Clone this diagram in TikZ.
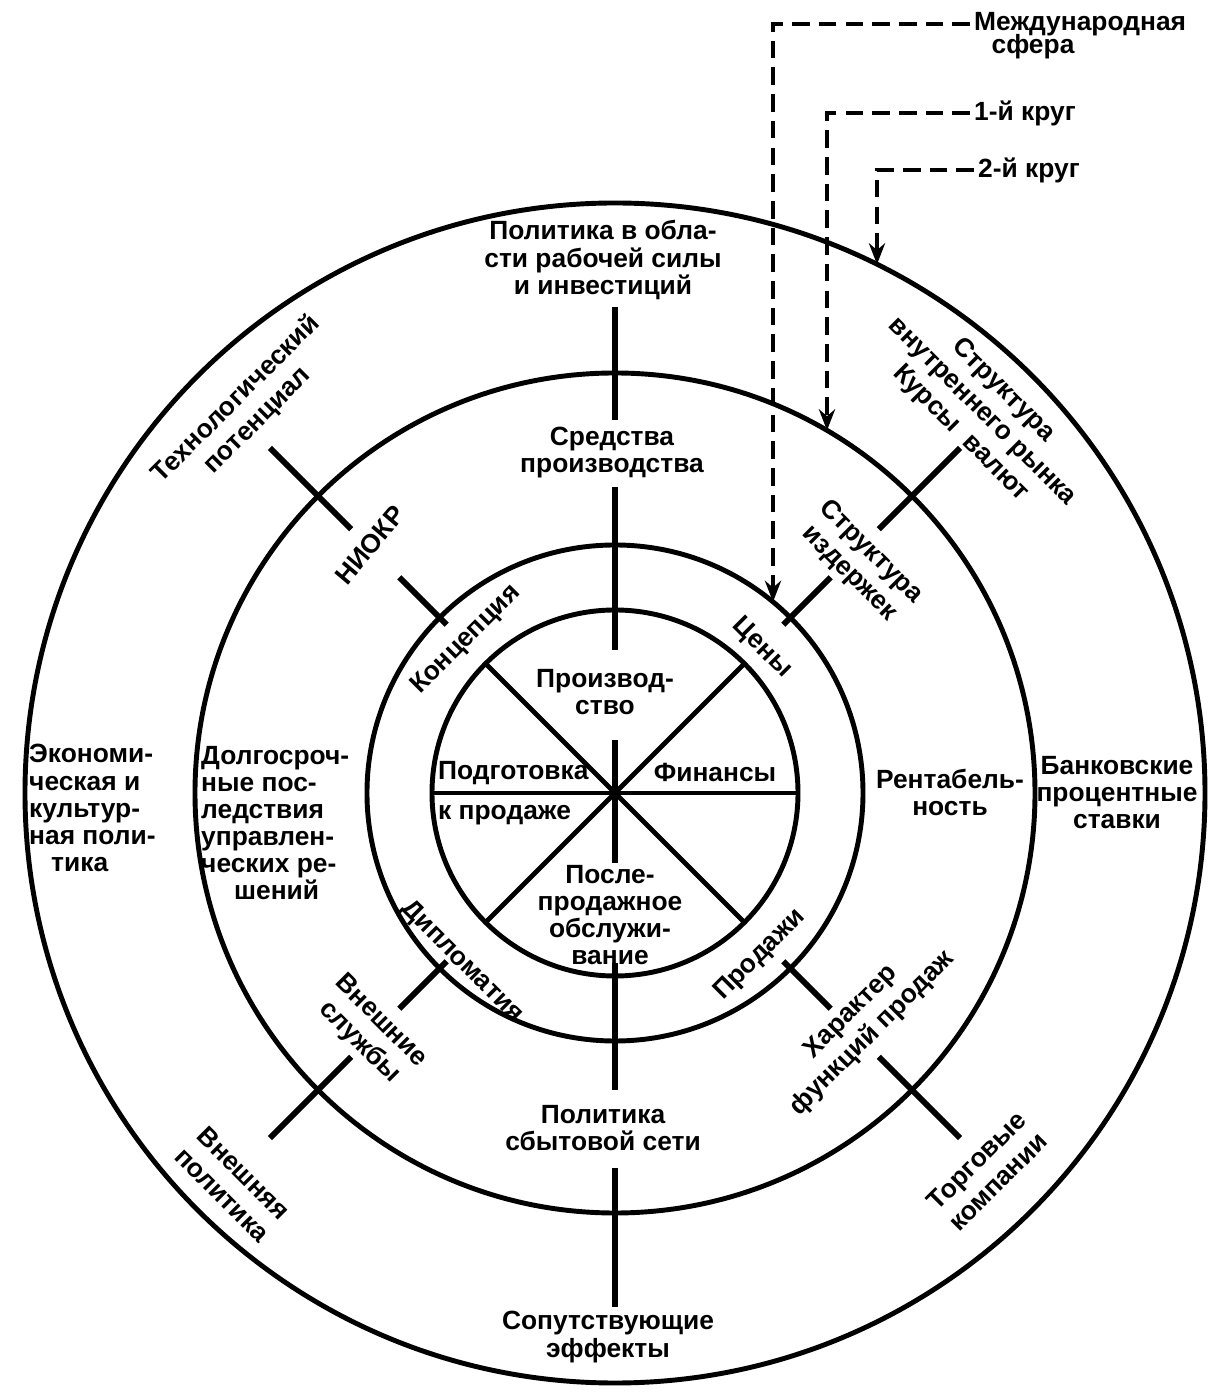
\documentclass[tikz,border=0pt]{standalone}
\usepackage{fontspec}
\setmainfont{Liberation Sans}
\usetikzlibrary{arrows.meta,positioning}

\begin{document}
\begin{tikzpicture}[
  ring/.style={line width=1.4pt},
  tick/.style={line width=1.7pt},
  lbl/.style={font=\bfseries\fontsize{7.5}{7.7}\selectfont, align=center, inner sep=1pt},
  rlbl/.style={lbl, font=\bfseries\fontsize{7.5}{8.6}\selectfont},
  dasharrow/.style={line width=1.1pt, dash pattern=on 5pt off 2.6pt, -{Stealth[length=6pt,width=4.6pt]}}
]
\useasboundingbox[fill=white] (-6.15,-6.05) rectangle (5.97,7.93);

% Circles
\foreach \r in {1.83,2.48,4.20,5.90}
  \draw[ring] (0,0) circle (\r);

% Inner circle sectors
\draw[ring] (180:1.83) -- (0:1.83);
\foreach \a in {45,135,225,315}
  \draw[ring] (0,0) -- (\a:1.83);
\draw[tick] (0,0.53) -- (0,-0.70);

% Radial ticks
\foreach \a in {45,135,225,315} {
  \draw[tick] (\a:2.38) -- (\a:3.05);
  \draw[tick] (\a:3.73) -- (\a:4.88);
}
\draw[tick] (90:1.43) -- (90:3.06);
\draw[tick] (90:3.73) -- (90:4.86);
\draw[tick] (270:1.70) -- (270:2.97);
\draw[tick] (270:3.75) -- (270:5.14);

% Inner circle
\node[lbl] (prod) at (-0.10,1.01) {Производ-\\ство};
\node[lbl, anchor=west, align=left] (prep) at (-1.81,0) {Подготовка\\[3.6pt]к продаже};
\node[lbl] (fin) at (1.00,0.20) {Финансы};
\node[lbl] (after) at (-0.05,-1.22) {После-\\продажное\\обслужи-\\вание};

% Second ring
\node[rlbl, rotate=45] (conc) at (-1.49,1.53) {Концепция};
\node[rlbl, rotate=-45] (price) at (1.47,1.45) {Цены};
\node[rlbl, rotate=-45] (dipl) at (-1.53,-1.69) {Дипломатия};
\node[rlbl, rotate=45] (sales) at (1.45,-1.62) {Продажи};

% Third ring
\node[lbl] (means) at (-0.03,3.40) {Средства\\производства};
\node[rlbl, rotate=50] (rnd) at (-2.45,2.48) {НИОКР};
\node[rlbl, rotate=-45] (costs) at (2.45,2.30) {Структура\\издержек};
\node[lbl] (profit) at (3.35,0.01) {Рентабель-\\ность};
\node[lbl, anchor=west, align=left] (longterm) at (-4.18,-0.30)
  {Долгосроч-\\ные пос-\\ледствия\\управлен-\\ческих ре-\\\hspace*{0.33cm}шений};
\node[rlbl, rotate=-45] (extserv) at (-2.45,-2.39) {Внешние\\службы};
\node[rlbl, rotate=45] (salesfn) at (2.47,-2.30) {Характер\\функций продаж};
\node[lbl] (distr) at (-0.12,-3.35) {Политика\\сбытовой сети};

% Outer ring
\node[lbl] (labour) at (-0.12,5.33) {Политика в обла-\\сти рабочей силы\\и инвестиций};
\node[rlbl, rotate=45] (tech) at (-3.68,3.83) {Технологический\\потенциал};
\node[rlbl, rotate=-45] (market) at (3.67,3.81) {Структура\\внутреннего рынка\\Курсы\ \ валют};
\node[lbl, anchor=west, align=left] (econ) at (-5.90,-0.15)
  {Экономи-\\ческая и\\культур-\\ная поли-\\\hspace*{0.22cm}тика};
\node[lbl] (banks) at (5.02,0) {Банковские\\процентные\\ставки};
\node[rlbl, rotate=-45] (extpol) at (-3.82,-3.91) {Внешняя\\политика};
\node[rlbl, rotate=45] (trade) at (3.72,-3.78) {Торговые\\компании};
\node[lbl] (side) at (-0.07,-5.44) {Сопутствующие\\эффекты};

% Legend
\node[lbl, anchor=west] (intl) at (3.55,7.69) {Международная};
\node[lbl] (intlb) at (4.18,7.46) {сфера};
\node[lbl, anchor=west] (first) at (3.55,6.80) {1-й круг};
\node[lbl, anchor=west] (second) at (3.59,6.23) {2-й круг};

\coordinate (tipA) at ({1.58},{sqrt(2.48*2.48-1.58*1.58)});
\coordinate (tipB) at ({2.12},{sqrt(4.20*4.20-2.12*2.12)});
\coordinate (tipC) at ({2.62},{sqrt(5.90*5.90-2.62*2.62)});
\draw[dasharrow] (intl.west) -| (tipA);
\draw[dasharrow] (first.west) -| (tipB);
\draw[dasharrow] (second.west) -| (tipC);
\end{tikzpicture}
\end{document}
